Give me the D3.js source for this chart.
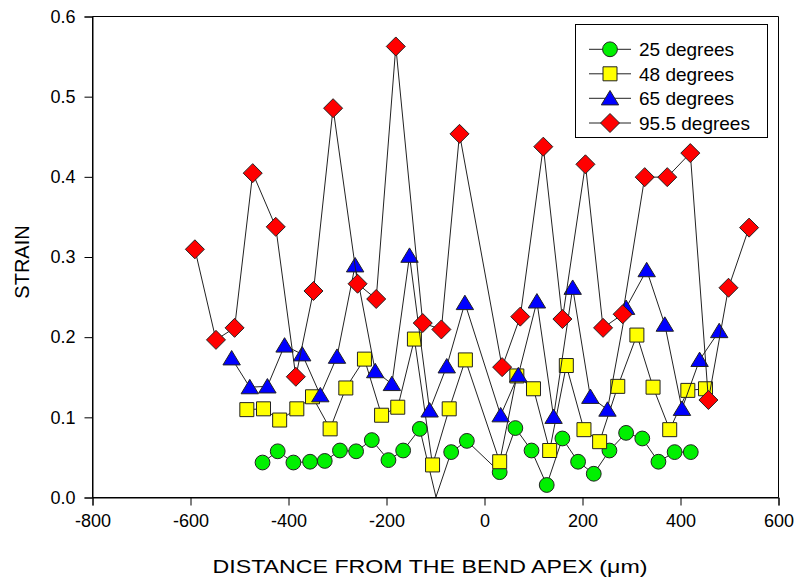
<!DOCTYPE html>
<html><head><meta charset="utf-8">
<script src="https://cdn.jsdelivr.net/npm/d3@7"></script>
<style>body{margin:0;background:#fff;} text{font-family:"Liberation Sans",Arial,sans-serif;fill:#000;}</style>
</head><body><svg id="c" width="795" height="581"></svg>
<script>
// ---- data ----
const seriesNames = ["25 degrees", "48 degrees", "65 degrees", "95.5 degrees"];
const x25 = [-452,-421,-389,-355,-325,-294,-261,-229,-195,-165,-131,-98,-67,-35,32,64,97,128,160,192,224,256,290,323,356,389,422];
const y25 = [0.043,0.057,0.043,0.044,0.045,0.058,0.057,0.071,0.046,0.058,0.085,0.0,0.056,0.070,0.031,0.086,0.058,0.015,0.073,0.044,0.029,0.058,0.080,0.073,0.044,0.056,0.056];
const x48 = [-484,-450,-417,-382,-350,-314,-282,-244,-209,-176,-142,-105,-71,-38,32,67,101,134,168,204,236,273,312,345,379,416,452];
const y48 = [0.109,0.110,0.096,0.110,0.125,0.085,0.136,0.172,0.102,0.112,0.197,0.040,0.110,0.171,0.044,0.151,0.135,0.058,0.164,0.084,0.069,0.138,0.202,0.137,0.084,0.133,0.135];
const x65 = [-515,-478,-442,-407,-371,-334,-300,-263,-222,-188,-152,-111,-76,-39,34,70,108,142,181,217,252,290,332,369,404,440,480];
const y65 = [0.173,0.137,0.138,0.189,0.178,0.127,0.175,0.289,0.157,0.141,0.301,0.108,0.163,0.242,0.102,0.152,0.244,0.100,0.261,0.125,0.109,0.236,0.283,0.215,0.110,0.171,0.207];
const x95 = [-590,-547,-509,-472,-425,-384,-348,-308,-258,-220,-180,-125,-87,-50,37,74,121,160,207,243,283,328,374,421,458,499,541];
const y95 = [0.309,0.196,0.211,0.404,0.337,0.150,0.257,0.485,0.266,0.247,0.562,0.217,0.209,0.453,0.162,0.225,0.437,0.222,0.415,0.211,0.228,0.399,0.399,0.429,0.121,0.261,0.336];
const xTicks = [-800,-600,-400,-200,0,200,400,600];
const yTicks = [0.0,0.1,0.2,0.3,0.4,0.5,0.6];
const fills = ["#00f000","#ffff00","#0000ff","#ff0000"];
const shapes = ["circle","square","triangle","diamond"];

const svg = d3.select("#c");
const L = 92, R = 778, T = 16, B = 497;
const x = d3.scaleLinear().domain([-800,600]).range([L,R]);
const y = d3.scaleLinear().domain([0,0.6]).range([B,T]);

function shapePath(s){
  switch(s){
    case "circle": return d3.arc()({innerRadius:0,outerRadius:7.4,startAngle:0,endAngle:2*Math.PI});
    case "square": return "M-7,-7H7V7H-7Z";
    case "triangle": return "M0,-7.8L8.7,6.6L-8.7,6.6Z";
    case "diamond": return "M0,-9.5L9.5,0L0,9.5L-9.5,0Z";
  }
}

const data = [
  d3.zip(x25,y25), d3.zip(x48,y48), d3.zip(x65,y65), d3.zip(x95,y95)
];

// frame
svg.append("path").attr("d",`M${L+0.5},${B+0.5}V${T+0.5}H${R+0.5}V${B+0.5}Z`)
  .attr("fill","none").attr("stroke","#000").attr("stroke-width",1);

// axes
const xAxis = d3.axisBottom(x).tickValues(xTicks).tickSize(8).tickPadding(4).tickFormat(d3.format("d"));
const gx = svg.append("g").attr("transform",`translate(0.5,${B+0.5})`).call(xAxis);
const yAxis = d3.axisLeft(y).tickValues(yTicks).tickSize(8).tickPadding(9).tickFormat(d3.format(".1f"));
const gy = svg.append("g").attr("transform",`translate(${L+0.5},0.5)`).call(yAxis);
[gx,gy].forEach(g=>{
  g.select(".domain").attr("stroke","#000");
  g.selectAll(".tick line").attr("stroke","#000");
  g.selectAll(".tick text").attr("font-size","18px").attr("font-family","Liberation Sans, Arial, sans-serif").attr("fill","#000");
});
gx.selectAll(".tick text").attr("dy","0.95em");
gx.selectAll(".tick text").text(d=>d<0?"-"+Math.abs(d):d);

// series
const line = d3.line().x(d=>x(d[0])).y(d=>y(d[1]));
data.forEach((ser,i)=>{
  svg.append("path").attr("d",line(ser)).attr("fill","none").attr("stroke","#222").attr("stroke-width",1);
  svg.append("g").selectAll("path").data(ser.filter(d=>d[1]>0)).join("path")
    .attr("d",shapePath(shapes[i]))
    .attr("transform",d=>`translate(${x(d[0])},${y(d[1])})`)
    .attr("fill",fills[i]).attr("stroke","#222").attr("stroke-width",1);
});

// legend
const lg = svg.append("g");
lg.append("rect").attr("x",575.5).attr("y",24.5).attr("width",192).attr("height",113)
  .attr("fill","#fff").attr("stroke","#000");
const rowY = [49.3,73.8,98.3,123];
seriesNames.forEach((n,i)=>{
  lg.append("line").attr("x1",589).attr("x2",631).attr("y1",rowY[i]).attr("y2",rowY[i]).attr("stroke","#222");
  lg.append("path").attr("d",shapePath(shapes[i])).attr("transform",`translate(610,${rowY[i]})`)
    .attr("fill",fills[i]).attr("stroke","#222");
  lg.append("text").attr("x",639).attr("y",rowY[i]).attr("dy","0.36em").attr("font-size","19px").text(n);
});

// axis titles
svg.append("text").attr("x",430).attr("y",573).attr("text-anchor","middle").attr("font-size","19px")
  .attr("textLength",435).attr("lengthAdjust","spacingAndGlyphs")
  .text("DISTANCE FROM THE BEND APEX (\u03bcm)");
svg.append("text").attr("transform","translate(29,262) rotate(-90)").attr("text-anchor","middle")
  .attr("font-size","20px").text("STRAIN");
</script></body></html>
